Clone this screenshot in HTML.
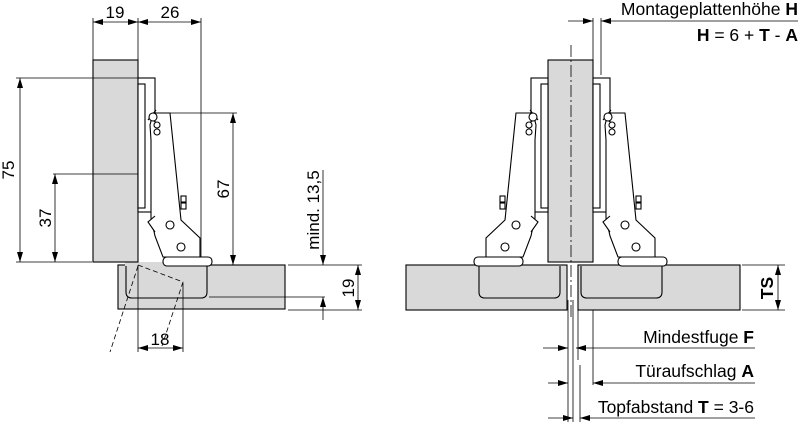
<!DOCTYPE html>
<html><head><meta charset="utf-8"><style>
html,body{margin:0;padding:0;background:#fff;}
svg{display:block;font-family:"Liberation Sans",sans-serif;}
</style></head><body>
<svg width="800" height="422" viewBox="0 0 800 422" xmlns="http://www.w3.org/2000/svg">
<defs>
<marker id="a" viewBox="0 0 10 6" refX="10" refY="3" markerWidth="10" markerHeight="6" orient="auto-start-reverse" markerUnits="userSpaceOnUse"><path d="M0,0 L10,3 L0,6 z" fill="#000"/></marker>
<g id="hinge" fill="#fff" stroke="#000" stroke-width="1.1">
<rect x="0" y="78" width="17" height="134"/>
<rect x="0" y="84" width="7" height="124"/>
<path d="M15,113 L32,113 L43,220 L62,238 L62,257 L25,257 L17,236 L13,218 L13,140 L12,125 Z"/>
<path d="M10,120 L18,110 M12,118 L20,124"/>
<circle cx="15" cy="117" r="4"/>
<rect x="16" y="122" width="6" height="6" rx="3"/>
<rect x="16" y="129" width="6" height="6" rx="3"/>
<rect x="43" y="196" width="5" height="6"/>
<rect x="43" y="203" width="5" height="6"/>
<circle cx="32" cy="225" r="4"/>
<circle cx="43" cy="247" r="4"/>
<path d="M17,216 L10,222 L17,232"/>
<rect x="25" y="257" width="49" height="9" rx="4"/>
</g>
<g id="cup" fill="none" stroke="#000" stroke-width="1.1"><path d="M-12,266 L-12,292 Q-12,298 -6,298 L63,298 Q69,298 69,292 L69,266"/></g>
</defs>

<!-- LEFT VIEW -->
<rect x="118" y="265" width="167" height="44" fill="#d9d9d9" stroke="#000" stroke-width="1.1"/>
<rect x="125" y="262" width="82" height="35" fill="#d9d9d9" stroke="none"/>
<use href="#cup" transform="translate(138,0)"/>
<rect x="93" y="60" width="45" height="202" fill="#d9d9d9" stroke="#000" stroke-width="1.1"/>
<use href="#hinge" transform="translate(138,0)"/>
<g stroke="#000" stroke-width="0.8" fill="none">
<path d="M93,18 V60 M138,18 V262 M201,18 V257"/>
<line x1="93" y1="22" x2="138" y2="22" marker-start="url(#a)" marker-end="url(#a)"/>
<line x1="138" y1="22" x2="201" y2="22" marker-start="url(#a)" marker-end="url(#a)"/>
<path d="M16,78 H138 M16,262 H92 M53,174 H138 M170,113 H237 M209,297 H325 M288,265 H362 M288,310 H362"/>
<line x1="20" y1="78" x2="20" y2="262" marker-start="url(#a)" marker-end="url(#a)"/>
<line x1="55" y1="174" x2="55" y2="262" marker-start="url(#a)" marker-end="url(#a)"/>
<line x1="233" y1="113" x2="233" y2="265" marker-start="url(#a)" marker-end="url(#a)"/>
<line x1="323" y1="170" x2="323" y2="265" marker-end="url(#a)"/>
<line x1="323" y1="320" x2="323" y2="297" marker-end="url(#a)"/>
<line x1="358" y1="265" x2="358" y2="310" marker-start="url(#a)" marker-end="url(#a)"/>
<path d="M138,265 V352 M183,283 V352"/>
<line x1="138" y1="348" x2="183" y2="348" marker-start="url(#a)" marker-end="url(#a)"/>
<path d="M138,265 L183,282 L162,346 M138,266 L110,352" stroke-dasharray="5,3"/>
</g>
<g font-size="17" fill="#000">
<text x="115" y="18" text-anchor="middle">19</text>
<text x="170" y="18" text-anchor="middle">26</text>
<text x="160" y="345" text-anchor="middle">18</text>
<text transform="translate(14,170) rotate(-90)" text-anchor="middle">75</text>
<text transform="translate(51,218) rotate(-90)" text-anchor="middle">37</text>
<text transform="translate(229,189) rotate(-90)" text-anchor="middle">67</text>
<text transform="translate(319,210) rotate(-90)" text-anchor="middle">mind. 13,5</text>
<text transform="translate(354,288) rotate(-90)" text-anchor="middle">19</text>
</g>

<!-- RIGHT VIEW -->
<rect x="406" y="265" width="161" height="45" fill="#d9d9d9" stroke="#000" stroke-width="1.1"/>
<rect x="578" y="265" width="162" height="45" fill="#d9d9d9" stroke="#000" stroke-width="1.1"/>
<use href="#cup" transform="translate(593,0)"/>
<use href="#cup" transform="translate(548,0) scale(-1,1)"/>
<rect x="548" y="60" width="45" height="202" fill="#d9d9d9" stroke="#000" stroke-width="1.1"/>
<use href="#hinge" transform="translate(593,0)"/>
<use href="#hinge" transform="translate(548,0) scale(-1,1)"/>
<line x1="571" y1="45" x2="571" y2="320" stroke="#000" stroke-width="0.8" stroke-dasharray="12,3,2,3"/>
<g stroke="#000" stroke-width="0.8" fill="none">
<path d="M593,18 V60 M601,18 V75"/>
<line x1="568" y1="21" x2="593" y2="21" marker-end="url(#a)"/>
<line x1="798" y1="21" x2="601" y2="21" marker-end="url(#a)"/>
<path d="M568,300 V422 M573,300 V422 M578,305 V360 M580,365 V422 M593,310 V385"/>
<path d="M742,265 H785 M742,310 H785"/>
<line x1="778" y1="265" x2="778" y2="310" marker-start="url(#a)" marker-end="url(#a)"/>
<line x1="543" y1="348" x2="568" y2="348" marker-end="url(#a)"/>
<line x1="755" y1="348" x2="576" y2="348" marker-end="url(#a)"/>
<line x1="548" y1="383" x2="568" y2="383" marker-end="url(#a)"/>
<line x1="755" y1="383" x2="593" y2="383" marker-end="url(#a)"/>
<line x1="548" y1="418" x2="573" y2="418" marker-end="url(#a)"/>
<line x1="755" y1="418" x2="580" y2="418" marker-end="url(#a)"/>
</g>
<g font-size="17.5" fill="#000" text-anchor="end">
<text x="798" y="15">Montageplattenhöhe <tspan font-weight="bold">H</tspan></text>
<text x="798" y="41"><tspan font-weight="bold">H</tspan> = 6 + <tspan font-weight="bold">T</tspan> - <tspan font-weight="bold">A</tspan></text>
<text x="754" y="343">Mindestfuge <tspan font-weight="bold">F</tspan></text>
<text x="754" y="377">Türaufschlag <tspan font-weight="bold">A</tspan></text>
<text x="754" y="413">Topfabstand <tspan font-weight="bold">T</tspan> = 3-6</text>
<text transform="translate(773,288) rotate(-90)" text-anchor="middle" font-weight="bold">TS</text>
</g>
</svg>
</body></html>
